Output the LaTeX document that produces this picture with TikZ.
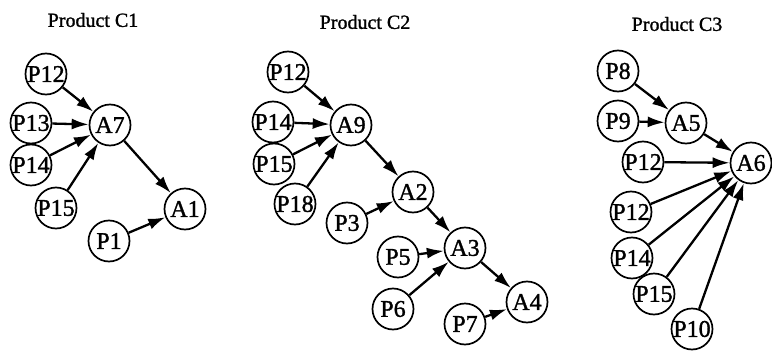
\documentclass[tikz,border=0pt]{standalone}
\usepackage{fontspec}
\setmainfont{Liberation Serif}
\newfontfamily\nodefont[FakeBold=1.3]{Liberation Serif}
\usetikzlibrary{arrows.meta}
\begin{document}
\begin{tikzpicture}[x=1pt,y=-1pt,
  nd/.style={circle,draw,line width=1.7pt,minimum size=41pt,inner sep=0pt,font=\nodefont\fontsize{24}{24}\selectfont},
  ttl/.style={font=\nodefont\fontsize{20}{20}\selectfont},
  ar/.style={line width=2.3pt,-{Latex[length=17pt,width=11pt]}}]
\useasboundingbox (0,0) rectangle (772,351);
% C1
\node[ttl] (t1) at (93,20) {Product C1};
\node[nd] (c1p12) at (46,74) {P12};
\node[nd] (c1p13) at (31,123) {P13};
\node[nd] (c1a7) at (110,125) {A7};
\node[nd] (c1p14) at (31,165) {P14};
\node[nd] (c1p15) at (56,208) {P15};
\node[nd] (c1a1) at (185,209) {A1};
\node[nd] (c1p1) at (109,241) {P1};
\draw[ar] (c1p12) -- (c1a7);
\draw[ar] (c1p13) -- (c1a7);
\draw[ar] (c1p14) -- (c1a7);
\draw[ar] (c1p15) -- (c1a7);
\draw[ar] (c1a7) -- (c1a1);
\draw[ar] (c1p1) -- (c1a1);
% C2
\node[ttl] (t2) at (365,22) {Product C2};
\node[nd] (c2p12) at (288,72) {P12};
\node[nd] (c2p14) at (273,122) {P14};
\node[nd] (c2a9) at (351,125) {A9};
\node[nd] (c2p15) at (274,164) {P15};
\node[nd] (c2p18) at (295,204) {P18};
\node[nd] (c2a2) at (413,192) {A2};
\node[nd] (c2p3) at (347,223) {P3};
\node[nd] (c2p5) at (398,257) {P5};
\node[nd] (c2a3) at (465,248) {A3};
\node[nd] (c2p6) at (393,309) {P6};
\node[nd] (c2p7) at (465,324) {P7};
\node[nd] (c2a4) at (527,302) {A4};
\draw[ar] (c2p12) -- (c2a9);
\draw[ar] (c2p14) -- (c2a9);
\draw[ar] (c2p15) -- (c2a9);
\draw[ar] (c2p18) -- (c2a9);
\draw[ar] (c2a9) -- (c2a2);
\draw[ar] (c2p3) -- (c2a2);
\draw[ar] (c2a2) -- (c2a3);
\draw[ar] (c2p5) -- (c2a3);
\draw[ar] (c2p6) -- (c2a3);
\draw[ar] (c2a3) -- (c2a4);
\draw[ar] (c2p7) -- (c2a4);
% C3
\node[ttl] (t3) at (677,24) {Product C3};
\node[nd] (c3p8) at (618,71) {P8};
\node[nd] (c3p9) at (618,121) {P9};
\node[nd] (c3a5) at (686,123) {A5};
\node[nd] (c3p12a) at (643,162) {P12};
\node[nd] (c3a6) at (751,163) {A6};
\node[nd] (c3p12b) at (631,212) {P12};
\node[nd] (c3p14) at (632,258) {P14};
\node[nd] (c3p15) at (654,294) {P15};
\node[nd] (c3p10) at (692,329) {P10};
\draw[ar] (c3p8) -- (c3a5);
\draw[ar] (c3p9) -- (c3a5);
\draw[ar] (c3a5) -- (c3a6);
\draw[ar] (c3p12a) -- (c3a6);
\draw[ar] (c3p12b) -- (c3a6);
\draw[ar] (c3p14) -- (c3a6);
\draw[ar] (c3p15) -- (c3a6);
\draw[ar] (c3p10) -- (c3a6);
\end{tikzpicture}
\end{document}
